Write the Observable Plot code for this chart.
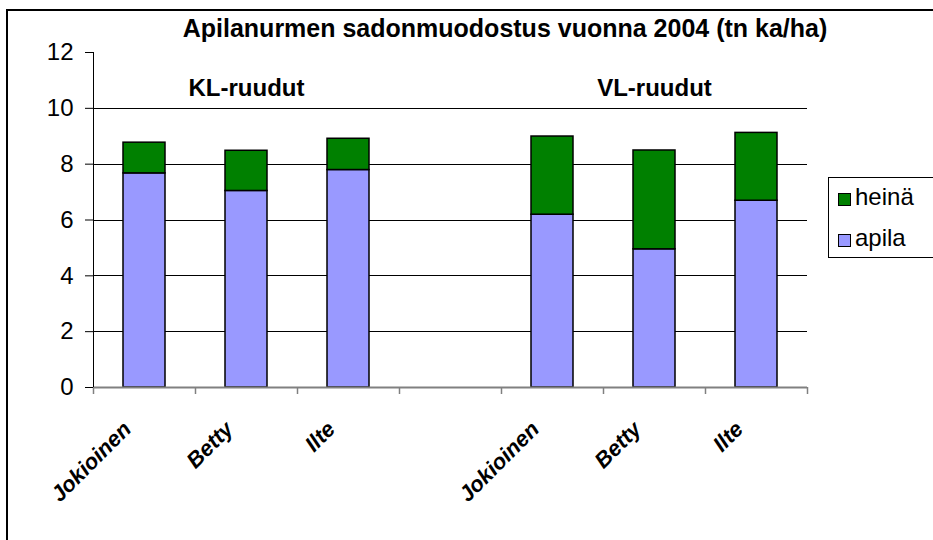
<!DOCTYPE html>
<html>
<head>
<meta charset="utf-8">
<script src="https://cdn.jsdelivr.net/npm/d3@7"></script>
<script src="https://cdn.jsdelivr.net/npm/@observablehq/plot@0.6"></script>
<style>
  html, body { margin: 0; padding: 0; background: #fff; overflow: hidden; }
  #wrap { position: relative; width: 933px; height: 540px; overflow: hidden;
          font-family: Arial, "Liberation Sans", sans-serif; color: #000; }
  #chart { position: absolute; left: 0; top: 0; }
  #border { position: absolute; left: 6px; top: 9px; width: 1000px; height: 600px;
            border: 2px solid #000; box-sizing: border-box; pointer-events: none; }
  #title { position: absolute; left: 0; width: 1010px; top: 16px; text-align: center;
           font-weight: bold; font-size: 25px; line-height: 25px; white-space: nowrap; }
  #legend { position: absolute; left: 828px; top: 177px; width: 120px; height: 81px;
            border: 1px solid #000; box-sizing: border-box; background: #fff; }
  .sw { position: absolute; left: 9px; width: 11px; height: 11px; border: 1px solid #000; }
  .lt { position: absolute; left: 26px; font-size: 24px; line-height: 24px; white-space: nowrap; }
</style>
</head>
<body>
<div id="wrap">
  <div id="chart"></div>
  <div id="title"></div>
  <div id="legend"></div>
  <div id="border"></div>
</div>
<script>
// ---- data ----
const title = "Apilanurmen sadonmuodostus vuonna 2004 (tn ka/ha)";
const groups = ["KL-ruudut", "VL-ruudut"];
const categories = ["Jokioinen", "Betty", "Ilte", "", "Jokioinen", "Betty", "Ilte"];
const apila = [7.67, 7.04, 7.79, null, 6.19, 4.95, 6.69];
const heina = [1.10, 1.44, 1.12, null, 2.80, 3.54, 2.43];
const series = ["heinä", "apila"];
const seriesColors = ["#008000", "#9999FF"];
const yTicks = [0, 2, 4, 6, 8, 10, 12];

// ---- build table ----
const rows = [];
categories.forEach((c, i) => {
  if (apila[i] == null) return;
  rows.push({i, cat: c, s: "apila", y1: 0, y2: apila[i]});
  rows.push({i, cat: c, s: "heinä", y1: apila[i], y2: apila[i] + heina[i]});
});
const labels = categories.map((c, i) => ({i, cat: c})).filter(d => d.cat !== "");
const groupRows = groups.map((g, k) => ({g, center: k * 4 + 1.5}));
const n = categories.length;

const plot = Plot.plot({
  width: 933,
  height: 540,
  marginLeft: 93,
  marginRight: 126,
  marginTop: 52,
  marginBottom: 153,
  style: {fontFamily: "Arial, 'Liberation Sans', sans-serif", background: "transparent", color: "#000", overflow: "visible"},
  x: {domain: [0, n], axis: null, label: null},
  y: {domain: [0, 12], axis: null, label: null},
  color: {domain: series, range: seriesColors},
  marks: [
    Plot.ruleY(yTicks.filter(t => t > 0 && t < 12), {x1: 0, x2: n, stroke: "#000", strokeWidth: 1, shapeRendering: "crispEdges"}),
    Plot.rect(rows, {x1: d => d.i, x2: d => d.i + 1, y1: "y1", y2: "y2", fill: d => d.s,
                     stroke: "#000", strokeWidth: 1.5, insetLeft: 30, insetRight: 30}),
    Plot.axisX({ticks: d3.range(0, n + 1), tickSize: 7, tickFormat: () => "", label: null, stroke: "#808080", strokeWidth: 1.5}),
    Plot.ruleY([0], {x1: 0, x2: n, stroke: "#808080", strokeWidth: 2}),
    Plot.ruleX([0], {y1: 0, y2: 12, stroke: "#000", strokeWidth: 1}),
    Plot.axisY({ticks: yTicks, tickSize: 8, tickPadding: 12, fontSize: 24, label: null, tickFormat: d => String(d)}),
    Plot.text(labels, {x: d => d.i + 0.5, y: 0, text: "cat", rotate: -45, textAnchor: "end", lineAnchor: "bottom",
                       dx: -12, dy: 43, fontSize: 22, fontWeight: "bold", fontStyle: "italic", fill: "#000"}),
    Plot.text(groupRows, {x: "center", y: 10, text: "g", lineAnchor: "bottom", dy: -12,
                          fontSize: 24, fontWeight: "bold", fill: "#000"})
  ]
});
document.getElementById("chart").appendChild(plot);

document.getElementById("title").textContent = title;

// legend
const legend = document.getElementById("legend");
const legendTops = [15, 56];
series.forEach((s, k) => {
  const sw = document.createElement("div");
  sw.className = "sw";
  sw.style.top = legendTops[k] + "px";
  sw.style.background = seriesColors[k];
  legend.appendChild(sw);
  const t = document.createElement("div");
  t.className = "lt";
  t.style.top = (legendTops[k] - 8) + "px";
  t.textContent = s;
  legend.appendChild(t);
});
</script>
</body>
</html>
